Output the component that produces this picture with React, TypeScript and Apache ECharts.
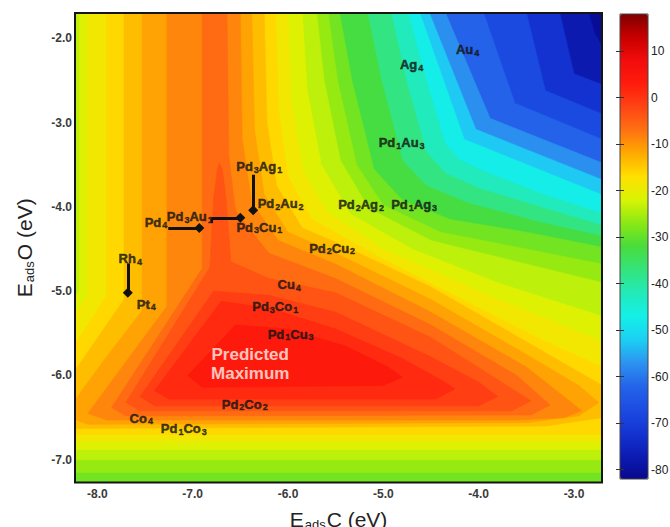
import React, { useEffect, useRef } from "react";
import * as echarts from "echarts";

const FONT = "'Liberation Sans', Arial, Helvetica, sans-serif";

// axis ticks
const xTickValues = [-8, -7, -6, -5, -4, -3];
const yTickValues = [-7, -6, -5, -4, -3, -2];
const colorbarTickValues = [10, 0, -10, -20, -30, -40, -50, -60, -70, -80];

// axis ranges (eV) and colour scale range
const xRange = [-8.234, -2.706];
const yRange = [-7.27, -1.7];
const valueRange = [-82, 18];

// filled-contour levels: each polygon encloses the region whose value >= level
const contourLevels = [-82, -80, -75, -70, -65, -60, -55, -50, -45, -40, -35, -30, -27.5, -25, -22.5, -20, -17.5, -15, -12.5, -10, -7.5, -5, -2.5, 0, 2.5];

const contourPolygons: number[][][] = [
  // -82 (whole map)
  [[-8.24, -1.69], [-2.7, -1.69], [-2.7, -7.28], [-8.24, -7.28]],
  // -80
  [[-8.24, -1.69], [-2.85, -1.69], [-2.78, -1.95], [-2.7, -2.1], [-2.7, -7.28], [-8.24, -7.28]],
  // -75
  [[-8.24, -1.69], [-3.15, -1.69], [-3.0, -2.42], [-2.7, -2.55], [-2.7, -7.28], [-8.24, -7.28]],
  // -70
  [[-8.24, -1.69], [-3.5, -1.69], [-3.3, -2.62], [-2.7, -2.9], [-2.7, -7.28], [-8.24, -7.28]],
  // -65
  [[-8.24, -1.69], [-3.95, -1.69], [-3.62, -2.77], [-2.7, -3.2], [-2.7, -7.28], [-8.24, -7.28]],
  // -60
  [[-8.24, -1.69], [-4.35, -1.69], [-3.88, -2.95], [-2.7, -3.48], [-2.7, -7.28], [-8.24, -7.28]],
  // -55
  [[-8.24, -1.69], [-4.52, -1.69], [-4.03, -3.08], [-2.7, -3.68], [-2.7, -7.28], [-8.24, -7.28]],
  // -50
  [[-8.24, -1.69], [-4.62, -1.69], [-4.15, -3.2], [-2.7, -3.86], [-2.7, -7.28], [-8.24, -7.28]],
  // -45
  [[-8.24, -1.69], [-4.74, -1.69], [-4.55, -2.5], [-4.35, -3.25], [-4.2, -3.44], [-3.9, -3.6], [-3.3, -3.86], [-2.7, -4.08], [-2.7, -7.28], [-8.24, -7.28]],
  // -40
  [[-8.24, -1.69], [-4.92, -1.69], [-4.76, -2.5], [-4.55, -3.35], [-4.35, -3.6], [-4.0, -3.78], [-3.3, -4.02], [-2.7, -4.22], [-2.7, -7.28], [-8.24, -7.28]],
  // -35
  [[-8.24, -1.69], [-5.17, -1.69], [-5.02, -2.5], [-4.8, -3.45], [-4.55, -3.75], [-4.1, -3.96], [-3.4, -4.17], [-2.7, -4.35], [-2.7, -7.28], [-8.24, -7.28]],
  // -30
  [[-8.24, -1.69], [-5.46, -1.69], [-5.33, -2.5], [-5.1, -3.55], [-4.8, -3.92], [-4.3, -4.15], [-3.5, -4.3], [-2.7, -4.48], [-2.7, -7.28], [-8.24, -7.28]],
  // -27.5
  [[-8.24, -1.69], [-5.58, -1.69], [-5.48, -2.5], [-5.28, -3.5], [-5.0, -3.98], [-4.4, -4.3], [-3.5, -4.5], [-2.7, -4.68], [-2.7, -7.15], [-8.24, -7.15]],
  // -25
  [[-8.24, -1.69], [-5.7, -1.69], [-5.62, -2.5], [-5.45, -3.45], [-5.15, -4.02], [-4.5, -4.4], [-3.6, -4.65], [-2.7, -4.9], [-2.7, -7.0], [-8.24, -7.0]],
  // -22.5
  [[-8.19, -1.69], [-5.85, -1.69], [-5.8, -2.6], [-5.65, -3.5], [-5.35, -4.08], [-4.7, -4.5], [-3.8, -4.9], [-2.7, -5.3], [-2.7, -6.88], [-8.24, -6.88], [-8.24, -5.07], [-8.19, -5.0]],
  // -20
  [[-8.1, -1.69], [-6.0, -1.69], [-5.97, -2.7], [-5.85, -3.55], [-5.6, -4.05], [-5.0, -4.5], [-4.0, -5.0], [-2.7, -5.6], [-2.7, -6.78], [-8.24, -6.78], [-8.24, -5.28], [-8.1, -5.05]],
  // -17.5
  [[-7.9, -1.69], [-6.13, -1.69], [-6.1, -2.85], [-6.0, -3.65], [-5.75, -4.15], [-5.0, -4.62], [-4.0, -5.2], [-3.3, -5.6], [-2.7, -5.9], [-2.7, -6.7], [-8.24, -6.7], [-8.24, -5.64], [-7.9, -5.05]],
  // -15
  [[-7.72, -1.69], [-6.25, -1.69], [-6.22, -3.0], [-6.12, -3.75], [-5.85, -4.25], [-5.5, -4.42], [-4.5, -4.95], [-3.5, -5.6], [-2.7, -6.12], [-2.7, -6.5], [-3.3, -6.6], [-8.24, -6.63], [-8.24, -5.95], [-7.72, -5.1]],
  // -12.5
  [[-7.53, -1.69], [-6.38, -1.69], [-6.35, -3.1], [-6.25, -3.85], [-6.0, -4.3], [-5.5, -4.55], [-4.5, -5.1], [-3.5, -5.75], [-2.95, -6.12], [-2.74, -6.32], [-2.95, -6.48], [-3.5, -6.56], [-8.1, -6.58], [-8.24, -6.52], [-8.24, -6.3], [-7.95, -5.85], [-7.53, -5.23]],
  // -10
  [[-7.27, -1.69], [-6.5, -1.69], [-6.48, -3.2], [-6.38, -3.95], [-6.1, -4.4], [-5.5, -4.68], [-4.5, -5.25], [-3.5, -5.9], [-3.05, -6.3], [-2.92, -6.42], [-3.1, -6.5], [-3.6, -6.53], [-7.9, -6.53], [-8.1, -6.45], [-7.27, -5.18]],
  // -7.5
  [[-6.9, -1.69], [-6.64, -1.69], [-6.62, -3.4], [-6.55, -4.05], [-6.2, -4.55], [-5.5, -4.85], [-4.5, -5.4], [-3.6, -6.0], [-3.25, -6.35], [-3.45, -6.47], [-7.7, -6.48], [-7.85, -6.38], [-6.9, -4.73]],
  // -5
  [[-6.82, -4.72], [-6.78, -3.9], [-6.74, -3.55], [-6.72, -3.48], [-6.69, -3.55], [-6.65, -3.9], [-6.6, -4.65], [-6.2, -4.85], [-5.5, -5.02], [-4.5, -5.55], [-3.8, -6.05], [-3.45, -6.3], [-3.65, -6.42], [-7.55, -6.42], [-7.7, -6.32]],
  // -2.5
  [[-6.78, -5.0], [-6.2, -5.05], [-5.5, -5.25], [-4.5, -5.78], [-4.0, -6.08], [-3.8, -6.25], [-4.0, -6.36], [-7.4, -6.36], [-7.55, -6.25]],
  // 0
  [[-6.7, -5.12], [-6.2, -5.2], [-5.5, -5.45], [-4.8, -5.8], [-4.4, -6.05], [-4.25, -6.16], [-4.45, -6.28], [-7.25, -6.28], [-7.4, -6.18]],
  // 2.5
  [[-6.55, -5.4], [-6.0, -5.45], [-5.4, -5.65], [-4.95, -5.9], [-4.8, -6.02], [-5.0, -6.12], [-6.9, -6.14], [-7.05, -6.0]],
];

// jet-like colour map, evenly spaced from -82 to 18
const colormap = [
  "#08088c", "#0c1cb4", "#1434d2", "#1c4ce2", "#2464ea", "#2c94f0", "#1cd0f4",
  "#14f0e8", "#22eab8", "#34e47c", "#48dc3c", "#8ae814", "#d8f404", "#ffe000",
  "#ffaa00", "#ff7212", "#ff4414", "#ff1c0c", "#f20c0c", "#c80000", "#800000",
];

// catalyst labels (centre of the text, eV)
const alloyNames = ["Au4", "Ag4", "Pd1Au3", "Pd2Ag2", "Pd1Ag3", "Pd3Ag1", "Pd2Au2", "Pd3Cu1", "Pd3Au1", "Pd4", "Pd2Cu2", "Rh4", "Pt4", "Cu4", "Pd3Co1", "Pd1Cu3", "Pd2Co2", "Co4", "Pd1Co3"];
const alloyX = [-4.116, -4.703, -4.808, -5.233, -4.677, -6.302, -6.077, -6.3, -7.03, -7.385, -5.537, -7.654, -7.486, -5.987, -6.134, -5.972, -6.454, -7.539, -7.093];
const alloyY = [-2.118, -2.296, -3.22, -3.955, -3.955, -3.505, -3.943, -4.222, -4.1, -4.162, -4.476, -4.6, -5.14, -4.909, -5.17, -5.495, -6.325, -6.49, -6.615];

const maximumLabel = "Predicted\nMaximum";
const maximumPos = [-6.396, -5.868];

// arrows between compositions
const arrowFrom = [[-6.365, -3.62], [-7.256, -4.25], [-6.8, -4.13], [-7.68, -4.67]];
const arrowTo = [[-6.365, -4.04], [-6.93, -4.25], [-6.5, -4.13], [-7.68, -5.02]];
const arrowTickFrom = [[-6.8, -4.13]];
const arrowTickTo = [[-6.8, -4.19]];

function toRich(name: string): string {
  return name
    .split(/(\d+)/)
    .filter((p) => p.length > 0)
    .map((p) => (/^\d+$/.test(p) ? `{s|${p}}` : `{n|${p}}`))
    .join("");
}

const titleRich = {
  e: { fontSize: 21, fontFamily: FONT, color: "#222", lineHeight: 22, verticalAlign: "top" },
  s: { fontSize: 13, fontFamily: FONT, color: "#222", lineHeight: 13, padding: [14, 1, 0, 1], verticalAlign: "bottom" },
};

export default function App() {
  const ref = useRef<HTMLDivElement>(null);

  useEffect(() => {
    if (!ref.current) return;
    const chart = echarts.init(ref.current, null, { renderer: "svg" });

    const contourData = contourLevels.map((lv, i) => {
      const next = i + 1 < contourLevels.length ? contourLevels[i + 1] : lv + 2.5;
      return [-5, -4, (lv + next) / 2];
    });

    const labelRich = {
      n: { fontSize: 13, fontWeight: "bold", fontFamily: FONT, color: "#141414", textBorderColor: "#141414", textBorderWidth: 0.5, lineHeight: 14, verticalAlign: "top" },
      s: { fontSize: 9, fontWeight: "bold", fontFamily: FONT, color: "#141414", textBorderColor: "#141414", textBorderWidth: 0.4, lineHeight: 9, padding: [9, 0, 0, 1], verticalAlign: "bottom" },
    };

    const option: any = {
      animation: false,
      backgroundColor: "#ffffff",
      textStyle: { fontFamily: FONT },
      grid: [
        { left: 75, top: 13, width: 527, height: 469.5, show: true, backgroundColor: "transparent", borderColor: "#151515", borderWidth: 2, z: 10, outerBoundsMode: "none" },
        { left: 620, top: 14, width: 28, height: 465, show: true, backgroundColor: "transparent", borderColor: "#444", borderWidth: 1, z: 10, outerBoundsMode: "none" },
      ],
      xAxis: [
        {
          gridIndex: 0, type: "value", min: xRange[0], max: xRange[1],
          axisLine: { show: false }, axisTick: { show: false }, splitLine: { show: false },
          axisLabel: { customValues: xTickValues, formatter: (v: number) => v.toFixed(1), fontSize: 12, fontWeight: "bold", color: "#3a3a3a", margin: 5, fontFamily: FONT },
          name: "{e|E}{s|ads}{e|C (eV)}", nameLocation: "middle", nameGap: 26,
          nameTextStyle: { rich: titleRich },
        },
        { gridIndex: 1, type: "value", min: 0, max: 1, show: false },
      ],
      yAxis: [
        {
          gridIndex: 0, type: "value", min: yRange[0], max: yRange[1],
          axisLine: { show: false }, axisTick: { show: false }, splitLine: { show: false },
          axisLabel: { customValues: yTickValues, formatter: (v: number) => v.toFixed(1), fontSize: 12, fontWeight: "bold", color: "#3a3a3a", margin: 3, fontFamily: FONT },
          name: "{e|E}{s|ads}{e|O (eV)}", nameLocation: "middle", nameGap: 39, nameRotate: 90,
          nameTextStyle: { rich: titleRich },
        },
        {
          gridIndex: 1, type: "value", min: valueRange[0], max: valueRange[1], position: "right", z: 12,
          axisLine: { show: false }, splitLine: { show: false },
          axisTick: { show: true, inside: true, length: 4, customValues: colorbarTickValues, lineStyle: { color: "#333", width: 1 } },
          axisLabel: { customValues: colorbarTickValues, fontSize: 12, color: "#222", margin: 3, fontFamily: FONT },
        },
        {
          gridIndex: 1, type: "value", min: valueRange[0], max: valueRange[1], position: "left", z: 12,
          axisLine: { show: false }, splitLine: { show: false },
          axisTick: { show: true, inside: true, length: 4, customValues: colorbarTickValues, lineStyle: { color: "#333", width: 1 } },
          axisLabel: { show: false },
        },
      ],
      visualMap: {
        type: "continuous", min: valueRange[0], max: valueRange[1], dimension: 2, seriesIndex: 0,
        inRange: { color: colormap }, orient: "vertical", left: 620, top: 14,
        itemWidth: 28, itemHeight: 465, calculable: false, hoverLink: false, padding: 0, showLabel: false,
      },
      series: [
        {
          type: "custom", coordinateSystem: "cartesian2d", xAxisIndex: 0, yAxisIndex: 0,
          data: contourData, encode: { x: 0, y: 1 }, clip: true, silent: true, z: 1,
          renderItem: (params: any, api: any) => {
            const pts = contourPolygons[params.dataIndex].map((p) => api.coord(p));
            const c = api.visual("color");
            return { type: "polygon", shape: { points: pts }, style: { fill: c, stroke: c, lineWidth: 0.6 } };
          },
        },
        {
          type: "lines", coordinateSystem: "cartesian2d", xAxisIndex: 0, yAxisIndex: 0, silent: true, z: 5,
          data: arrowFrom.map((p, i) => ({ coords: [p, arrowTo[i]] })),
          symbol: ["none", "diamond"], symbolSize: 10,
          lineStyle: { color: "#111", width: 3, opacity: 1, curveness: 0 },
        },
        {
          type: "lines", coordinateSystem: "cartesian2d", xAxisIndex: 0, yAxisIndex: 0, silent: true, z: 5,
          data: arrowTickFrom.map((p, i) => ({ coords: [p, arrowTickTo[i]] })),
          symbol: ["none", "none"],
          lineStyle: { color: "#111", width: 2, opacity: 1, curveness: 0 },
        },
        {
          type: "scatter", xAxisIndex: 0, yAxisIndex: 0, silent: true, z: 6,
          symbol: "circle", symbolSize: 1, itemStyle: { color: "rgba(0,0,0,0)" },
          data: alloyNames.map((n, i) => [alloyX[i], alloyY[i], n]),
          label: {
            show: true, position: "inside", offset: [0, 2], color: "#141414",
            formatter: (p: any) => toRich(p.data[2]), rich: labelRich,
          },
        },
        {
          type: "scatter", xAxisIndex: 0, yAxisIndex: 0, silent: true, z: 6,
          symbol: "circle", symbolSize: 1, itemStyle: { color: "rgba(0,0,0,0)" },
          data: [[maximumPos[0], maximumPos[1]]],
          label: {
            show: true, position: "inside", formatter: maximumLabel, align: "center", textBorderWidth: 0,
            fontSize: 17, fontWeight: "bold", color: "#fff4ee", lineHeight: 19, fontFamily: FONT,
          },
        },
      ],
    };

    chart.setOption(option);
    return () => chart.dispose();
  }, []);

  return (
    <div
      ref={ref}
      style={{ position: "fixed", left: 0, top: 0, width: 670, height: 527, background: "#fff" }}
    />
  );
}
